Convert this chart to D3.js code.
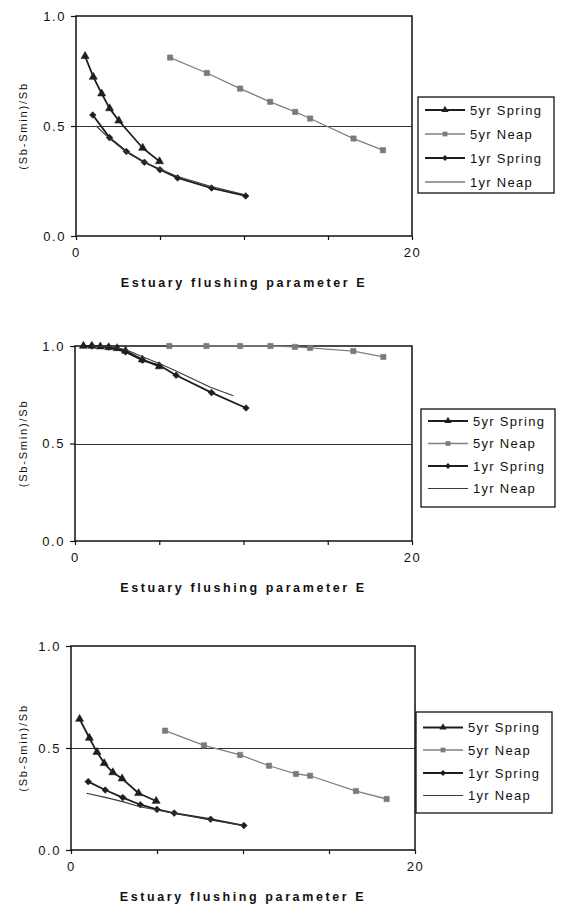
<!DOCTYPE html>
<html><head><meta charset="utf-8">
<script src="https://cdn.jsdelivr.net/npm/d3@7"></script>
<style>
html,body{margin:0;padding:0;background:#fff;}
svg{display:block;}
text{font-family:"Liberation Sans",Arial,sans-serif;fill:#111;}
</style></head>
<body>
<svg id="c" width="561" height="909"></svg>
<script>
// ---------- DATA ----------
const seriesNames = ["5yr Spring", "5yr Neap", "1yr Spring", "1yr Neap"];
const xTickValues = [0, 5, 10, 15, 20];
const xTickLabels = ["0", "", "", "", "20"];
const yTickValues = [0, 0.5, 1.0];
const yTickLabels = ["0.0", "0.5", "1.0"];
const xTitle = "Estuary flushing parameter  E";
const yTitle = "(Sb-Smin)/Sb";

// Panel 1
const p1Spring5 = [[0.54,0.817],[1.03,0.723],[1.53,0.647],[2.0,0.58],[2.55,0.524],[3.97,0.40],[4.97,0.339]];
const p1Neap5   = [[5.6,0.811],[7.79,0.741],[9.77,0.670],[11.56,0.610],[13.05,0.564],[13.94,0.534],[16.52,0.443],[18.27,0.390]];
const p1Spring1 = [[1.0,0.55],[2.0,0.447],[3.0,0.384],[4.07,0.335],[5.0,0.301],[6.05,0.264],[8.07,0.218],[10.1,0.182]];
const p1Neap1   = [[1.2,0.50],[2,0.443],[3,0.382],[4,0.337],[5,0.304],[6,0.272],[8,0.226],[10,0.188]];

// Panel 2
const p2Spring5 = [[0.5,1.0],[1,1.0],[1.5,0.997],[2,0.993],[2.5,0.988],[3,0.975],[4,0.93],[5,0.895]];
const p2Neap5   = [[5.6,1.0],[7.8,1.0],[9.8,1.0],[11.6,1.0],[13.05,0.995],[13.95,0.99],[16.52,0.974],[18.3,0.944]];
const p2Spring1 = [[1,1.0],[2,0.995],[3,0.97],[4,0.927],[5,0.901],[6,0.85],[8.1,0.761],[10.15,0.682]];
const p2Neap1   = [[1,1.0],[2,0.996],[3,0.982],[4,0.945],[5,0.91],[6,0.872],[8,0.79],[9.4,0.745]];

// Panel 3
const p3Spring5 = [[0.5,0.642],[1.07,0.549],[1.51,0.48],[1.93,0.425],[2.43,0.38],[2.97,0.35],[3.93,0.278],[4.95,0.24]];
const p3Neap5   = [[5.47,0.585],[7.73,0.513],[9.83,0.466],[11.51,0.413],[13.08,0.373],[13.9,0.364],[16.57,0.289],[18.35,0.25]];
const p3Spring1 = [[1.0,0.335],[1.99,0.294],[3.01,0.257],[4.03,0.222],[5.0,0.199],[6.0,0.181],[8.12,0.151],[10.05,0.12]];
const p3Neap1   = [[0.9,0.278],[1.99,0.258],[3.0,0.237],[4.0,0.212],[5.0,0.196],[6,0.180],[8,0.149],[10,0.12]];

// ---------- LAYOUT / STYLE ----------
const panels = [
  {L:76, R:412, T:16,  B:236, lg:{x:418, y:97,  w:136, h:96,  rows:[110,134,158,182]}, data:[p1Spring5,p1Neap5,p1Spring1,p1Neap1]},
  {L:75, R:412, T:346, B:541, lg:{x:421, y:409, w:134, h:98,  rows:[421,443.5,466,488.5]}, data:[p2Spring5,p2Neap5,p2Spring1,p2Neap1]},
  {L:71, R:415, T:646, B:850, lg:{x:416, y:712, w:136, h:101, rows:[727.5,750,773,795.5]}, data:[p3Spring5,p3Neap5,p3Spring1,p3Neap1]}
];
const styles = [
  {stroke:"#1e1e1e", width:1.8, fill:"#1e1e1e", sym:d3.symbolTriangle, size:28, rot:0},
  {stroke:"#808080", width:1.3, fill:"#7a7a7a", sym:d3.symbolSquare,   size:28, rot:0},
  {stroke:"#1e1e1e", width:1.8, fill:"#1e1e1e", sym:d3.symbolSquare,   size:22, rot:45},
  {stroke:"#3a3a3a", width:1.1, fill:null,      sym:null,              size:0,  rot:0}
];

const svg = d3.select("#c");

panels.forEach(p => {
  const x = d3.scaleLinear().domain([0,20]).range([p.L,p.R]);
  const y = d3.scaleLinear().domain([0,1]).range([p.B,p.T]);
  const g = svg.append("g");

  // 0.5 gridline
  g.append("line").attr("x1",p.L).attr("x2",p.R).attr("y1",Math.round(y(0.5))+0.5).attr("y2",Math.round(y(0.5))+0.5)
    .attr("stroke","#333").attr("stroke-width",1);

  // Axes
  const ya = d3.axisLeft(y).tickValues(yTickValues).tickSize(5).tickPadding(5)
    .tickFormat((d,i)=>yTickLabels[i]);
  const yg = g.append("g").attr("transform",`translate(${p.L},0)`).call(ya);
  const xa = d3.axisBottom(x).tickValues(xTickValues).tickSize(4).tickPadding(4)
    .tickFormat((d,i)=>xTickLabels[i]);
  const xg = g.append("g").attr("transform",`translate(0,${p.B})`).call(xa);
  [yg,xg].forEach(a=>{
    a.select(".domain").remove();
    a.selectAll(".tick line").attr("stroke","#111").attr("stroke-width",1.2);
    a.selectAll(".tick text").attr("font-size",13).attr("letter-spacing",1.6)
      .attr("font-family","Liberation Sans, Arial, sans-serif").attr("fill","#111");
  });
  xg.selectAll(".tick text").attr("dy","1.0em");

  // plot border
  g.append("rect").attr("x",p.L).attr("y",p.T).attr("width",p.R-p.L).attr("height",p.B-p.T)
    .attr("fill","none").attr("stroke","#111").attr("stroke-width",1.5);

  // series
  const line = d3.line().x(d=>x(d[0])).y(d=>y(d[1]));
  p.data.forEach((ser,i)=>{
    const s = styles[i];
    g.append("path").datum(ser).attr("d",line).attr("fill","none")
      .attr("stroke",s.stroke).attr("stroke-width",s.width).attr("stroke-linejoin","round");
    if (s.sym) {
      g.selectAll(null).data(ser).enter().append("path")
        .attr("d", d3.symbol().type(s.sym).size(s.size))
        .attr("transform", d=>`translate(${x(d[0])},${y(d[1])}) rotate(${s.rot})`)
        .attr("fill", s.fill).attr("stroke", s.fill).attr("stroke-width",0.6);
    }
  });

  // axis titles
  g.append("text").attr("x",(p.L+p.R)/2).attr("y",p.B+51)
    .attr("text-anchor","middle").attr("font-size",12.5).attr("font-weight","bold")
    .attr("letter-spacing",2.6).text(xTitle);
  g.append("text").attr("transform",`translate(27,${(p.T+p.B)/2}) rotate(-90)`)
    .attr("text-anchor","middle").attr("font-size",11).attr("letter-spacing",1.8)
    .text(yTitle);

  // legend
  const lg = p.lg;
  const lgG = g.append("g");
  lgG.append("rect").attr("x",lg.x).attr("y",lg.y).attr("width",lg.w).attr("height",lg.h)
    .attr("fill","#fff").attr("stroke","#111").attr("stroke-width",1.3);
  seriesNames.forEach((nm,i)=>{
    const s = styles[i], ry = lg.rows[i];
    lgG.append("line").attr("x1",lg.x+7).attr("x2",lg.x+47).attr("y1",ry).attr("y2",ry)
      .attr("stroke",s.stroke).attr("stroke-width",s.width);
    if (s.sym) {
      lgG.append("path").attr("d", d3.symbol().type(s.sym).size(s.size*0.8))
        .attr("transform",`translate(${lg.x+27},${ry}) rotate(${s.rot})`).attr("fill",s.fill);
    }
    lgG.append("text").attr("x",lg.x+52).attr("y",ry).attr("dy","0.36em")
      .attr("font-size",13).attr("letter-spacing",1.3).text(nm);
  });
});
</script>
</body></html>
